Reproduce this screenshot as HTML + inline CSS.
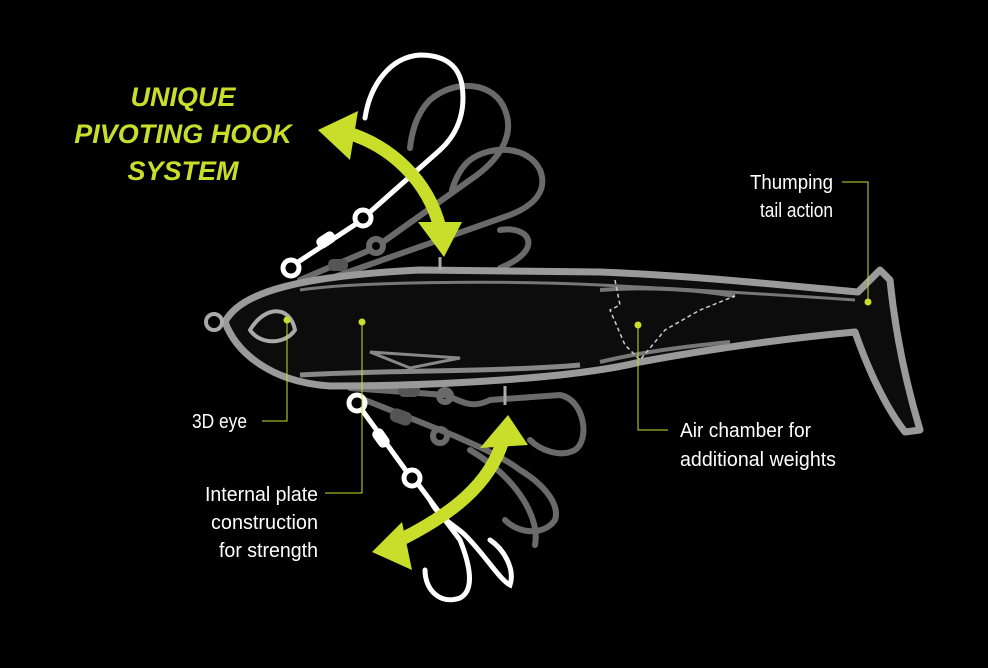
<!DOCTYPE html>
<html><head><meta charset="utf-8"><style>
html,body{margin:0;padding:0;background:#000;}
svg{display:block}
.t{font-family:"Liberation Sans",sans-serif;fill:#fff;font-size:20px}
.h{font-family:"Liberation Sans",sans-serif;font-weight:bold;font-style:italic;fill:#c8de2b;font-size:27px}
</style></head><body>
<svg width="988" height="668" viewBox="0 0 988 668" xmlns="http://www.w3.org/2000/svg">
<rect width="988" height="668" fill="#000"/>
<!-- grey back hooks top -->
<g fill="none" stroke="#6a6a6a" stroke-width="6" stroke-linecap="round">
<circle cx="376" cy="246" r="7"/>
<path d="M300 280 L370 250"/>
<path d="M383 242 L470 180 C500 160,515 135,505 110 C495 82,455 78,430 100 C418 112,412 130,410 148"/>
<path d="M320 282 L510 215 C535 205,548 190,540 170 C528 145,490 145,470 160 C460 168,455 180,452 190"/>
<path d="M500 230 C530 225,545 250,500 268"/>
</g>
<g fill="#555"><rect x="328" y="259" width="20" height="12" rx="5"/></g>
<!-- grey back hooks bottom -->
<g fill="none" stroke="#6a6a6a" stroke-width="6" stroke-linecap="round">
<path d="M350 388 L445 395 C460 400,470 410,490 400 L560 395 C585 400,590 440,575 450 C560 458,540 450,530 440"/>
<path d="M365 400 L455 436 C475 445,500 455,520 470 C545 485,560 505,555 520 C545 535,520 535,505 520"/>
<path d="M470 450 C520 480,540 520,535 545"/>
<circle cx="445" cy="396" r="6"/><circle cx="440" cy="436" r="7"/>
</g>
<g fill="#555"><rect x="398" y="383" width="22" height="14" rx="6"/><rect x="390" y="410" width="22" height="14" rx="6" transform="rotate(20 401 417)"/></g>
<!-- fish body -->
<path d="M225 322 C240 292,300 276,420 270 L600 272 C700 276,790 286,858 292 L880 270 L890 280 C895 330,905 380,920 430 L905 432 C880 400,862 352,855 332 C800 337,720 347,640 362 C580 377,450 386,330 386 C270 382,236 352,225 322 Z" fill="#0c0c0c" stroke="#9a9a9a" stroke-width="7" stroke-linejoin="round"/>
<path d="M300 290 C350 282,500 280,600 285 C700 290,780 295,855 300" fill="none" stroke="#777" stroke-width="3"/>
<path d="M300 375 C380 370,500 372,580 365" fill="none" stroke="#888" stroke-width="5"/>
<path d="M600 290 C650 286,700 290,735 296 M600 362 C650 350,700 345,730 342" fill="none" stroke="#777" stroke-width="4"/>
<path d="M370 352 L460 358 L410 368 Z" fill="none" stroke="#888" stroke-width="3"/>
<path d="M615 280 L620 305 L610 310 L625 345 L640 360 L665 330 L700 310 L735 296" fill="none" stroke="#ccc" stroke-width="1.5" stroke-dasharray="4 3"/>
<path d="M250 330 C265 305,290 305,295 330 C285 345,260 345,250 330Z" fill="none" stroke="#aaa" stroke-width="4"/>
<circle cx="214" cy="322" r="8" fill="none" stroke="#aaa" stroke-width="4"/>
<path d="M440 270 L440 257 M505 386 L505 405" stroke="#aaa" stroke-width="3"/>
<!-- white hooks -->
<g fill="none" stroke="#fff" stroke-width="5" stroke-linecap="round">
<circle cx="291" cy="268" r="8"/>
<circle cx="363" cy="218" r="8"/>
<path d="M298 262 L356 224"/>
<path d="M370 212 L440 150 C462 130,465 105,462 85 C458 62,440 55,420 55 C390 57,370 85,365 118"/>
<circle cx="357" cy="403" r="8"/>
<circle cx="412" cy="478" r="8"/>
<path d="M362 410 L407 472"/>
<path d="M418 484 L460 540 C470 565,475 590,460 598 C440 605,425 590,425 570"/>
<path d="M430 500 C440 520,455 525,465 535 C485 555,500 580,510 585 C515 570,505 550,490 540"/>
</g>
<g fill="#fff"><rect x="316" y="234" width="20" height="12" rx="5" transform="rotate(-33 326 240)"/><rect x="371" y="432" width="20" height="12" rx="5" transform="rotate(55 381 438)"/></g>
<!-- green arrows -->
<g fill="none" stroke="#c8de2b" stroke-width="13">
<path d="M345 132 C390 145,428 180,440 228"/>
<path d="M400 540 C450 515,490 485,503 440"/>
</g>
<g fill="#c8de2b">
<polygon points="318,130 358,111 350,160"/>
<polygon points="418,222 462,222 444,257"/>
<polygon points="372,552 402,522 412,570"/>
<polygon points="480,448 528,445 508,415"/>
</g>
<!-- title -->
<text class="h" x="183" y="106" text-anchor="middle">UNIQUE</text>
<text class="h" x="183" y="143" text-anchor="middle">PIVOTING HOOK</text>
<text class="h" x="183" y="180" text-anchor="middle">SYSTEM</text>
<!-- leaders -->
<g stroke="#c8de2b" stroke-width="1" fill="none">
<path d="M842 182 H868 V302"/>
<path d="M262 421 H287 V320"/>
<path d="M325 493 H362 V322"/>
<path d="M668 430 H638 V325"/>
</g>
<g fill="#c8de2b"><circle cx="868" cy="302" r="3.5"/><circle cx="287" cy="320" r="3.5"/><circle cx="362" cy="322" r="3.5"/><circle cx="638" cy="325" r="3.5"/></g>
<text class="t" x="750" y="189" textLength="83" lengthAdjust="spacingAndGlyphs">Thumping</text>
<text class="t" x="760" y="217" textLength="73" lengthAdjust="spacingAndGlyphs">tail action</text>
<text class="t" x="192" y="428" textLength="55" lengthAdjust="spacingAndGlyphs">3D eye</text>
<text class="t" x="205" y="501" textLength="113" lengthAdjust="spacingAndGlyphs">Internal plate</text>
<text class="t" x="211" y="529" textLength="107" lengthAdjust="spacingAndGlyphs">construction</text>
<text class="t" x="219" y="557" textLength="99" lengthAdjust="spacingAndGlyphs">for strength</text>
<text class="t" x="680" y="437" textLength="131" lengthAdjust="spacingAndGlyphs">Air chamber for</text>
<text class="t" x="680" y="466" textLength="156" lengthAdjust="spacingAndGlyphs">additional weights</text>
</svg>
</body></html>
